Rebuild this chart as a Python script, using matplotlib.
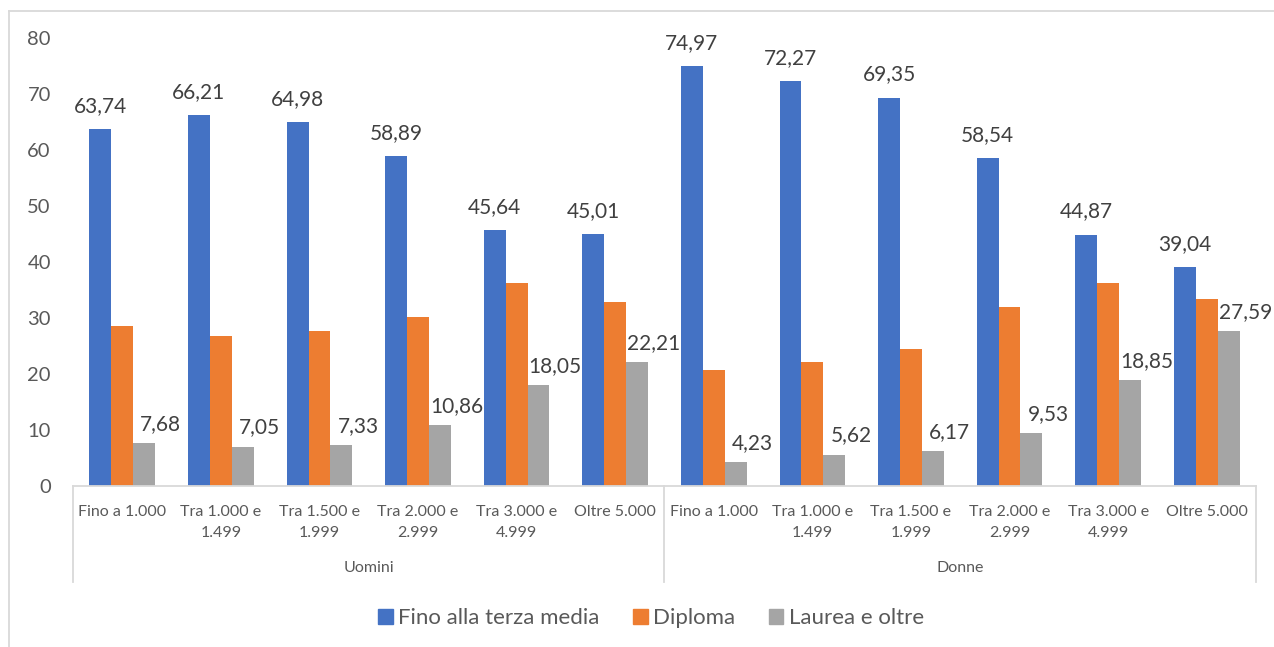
import matplotlib
matplotlib.use("Agg")
import matplotlib.pyplot as plt
import numpy as np
from matplotlib.lines import Line2D
from matplotlib.patches import Patch

plt.rcParams["font.family"] = ["Lato", "DejaVu Sans"]

# Data (percentages by income band, split by gender)
categories = ["Fino a 1.000", "Tra 1.000 e\n1.499", "Tra 1.500 e\n1.999",
              "Tra 2.000 e\n2.999", "Tra 3.000 e\n4.999", "Oltre 5.000"] * 2
groups = ["Uomini", "Donne"]
series_names = ["Fino alla terza media", "Diploma", "Laurea e oltre"]
terza_media = [63.74, 66.21, 64.98, 58.89, 45.64, 45.01,
               74.97, 72.27, 69.35, 58.54, 44.87, 39.04]
diploma = [28.58, 26.74, 27.69, 30.25, 36.31, 32.78,
           20.80, 22.11, 24.48, 31.93, 36.28, 33.37]
laurea = [7.68, 7.05, 7.33, 10.86, 18.05, 22.21,
          4.23, 5.62, 6.17, 9.53, 18.85, 27.59]
yticks = [0, 10, 20, 30, 40, 50, 60, 70, 80]

COLORS = ["#4472C4", "#ED7D31", "#A5A5A5"]
TXT = "#404040"
AXC = "#595959"
LINE = "#D9D9D9"

W, H = 1274, 647
fig = plt.figure(figsize=(W / 100, H / 100), dpi=100)
ax = fig.add_axes([73 / W, 1 - 486 / H, (1256 - 73) / W, (486 - 38) / H])

x = np.arange(len(categories))
bw = 0.222
ax.bar(x - bw, terza_media, bw, color=COLORS[0])
ax.bar(x, diploma, bw, color=COLORS[1])
ax.bar(x + bw, laurea, bw, color=COLORS[2])

fmt = lambda v: f"{v:.2f}".replace(".", ",")
for xi, v in zip(x, terza_media):
    ax.annotate(fmt(v), (xi - bw, v), xytext=(0, 9.5), textcoords="offset points",
                ha="center", va="bottom", fontsize=15, color=TXT)
for xi, v in zip(x, laurea):
    ax.annotate(fmt(v), (xi + bw, v), xytext=(12, 6.5), textcoords="offset points",
                ha="center", va="bottom", fontsize=15, color=TXT)

ax.set_xlim(-0.5, len(categories) - 0.5)
ax.set_ylim(0, 80)
ax.set_yticks(yticks)
ax.set_yticklabels([str(t) for t in yticks], fontsize=14.5, color=AXC)
ax.tick_params(axis="y", length=0, pad=16)
ax.set_xticks([])
for s in ["top", "right", "left"]:
    ax.spines[s].set_visible(False)
ax.spines["bottom"].set_color(LINE)
ax.spines["bottom"].set_linewidth(1.3)

# multi-level category axis
for xi, lab in zip(x, categories):
    ax.text(xi, -3.4, lab, ha="center", va="top", fontsize=11.5, color=AXC,
            linespacing=1.6, clip_on=False)
for gi, g in enumerate(groups):
    ax.text(gi * 6 + 2.5, -14.6, g, ha="center", va="center", fontsize=11.5,
            color=AXC, clip_on=False)
for xs in [-0.5, 5.5, 11.5]:
    ax.add_line(Line2D([xs, xs], [0, -17.2], color=LINE, lw=1.3, clip_on=False))

# outer chart border (left and top visible)
fig.add_artist(Line2D([9 / W, 9 / W], [0, 1 - 11 / H], color=LINE, lw=1.3,
                      transform=fig.transFigure))
fig.add_artist(Line2D([9 / W, 1], [1 - 11 / H, 1 - 11 / H], color=LINE, lw=1.3,
                      transform=fig.transFigure))

handles = [Patch(color=c) for c in COLORS]
fig.legend(handles, series_names, loc="center", bbox_to_anchor=(651 / W, 1 - 618 / H),
           ncol=3, frameon=False, fontsize=16, handlelength=0.65, handleheight=0.65,
           handletextpad=0.25, columnspacing=1.5, labelcolor=AXC)

fig.savefig("out.png", dpi=100)
plt.close(fig)
